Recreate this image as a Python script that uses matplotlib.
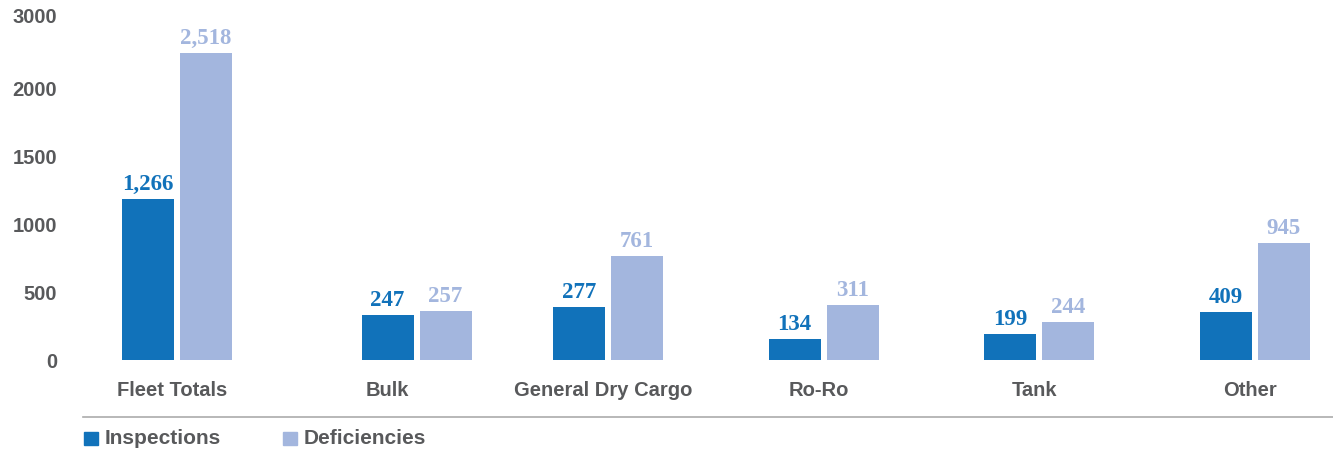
import numpy as np
import matplotlib
matplotlib.use("Agg")
import matplotlib.pyplot as plt
from matplotlib.lines import Line2D
from matplotlib.patches import Rectangle

# bar heights as drawn on the axis, printed values as shown above the bars
categories = ["Fleet Totals", "Bulk", "General Dry Cargo", "Ro-Ro", "Tank", "Other"]
series = ["Inspections", "Deficiencies"]
inspections = [1184, 331, 390, 154, 191, 353]
deficiencies = [2257, 360, 765, 404, 279, 860]
inspections_text = ["1,266", "247", "277", "134", "199", "409"]
deficiencies_text = ["2,518", "257", "761", "311", "244", "945"]
ytick_pos = [0, 500, 1000, 1500, 2000, 2530]
ytick_labels = ["0", "500", "1000", "1500", "2000", "3000"]

colors = ["#1172ba", "#a3b6de"]
grey = "#58595b"
sans = ["Liberation Sans", "DejaVu Sans"]
serif = ["Liberation Serif", "DejaVu Serif"]

W, H = 1333, 451
fig = plt.figure(figsize=(W / 100, H / 100), dpi=100)

# axes placed in pixel terms: y=0 at 360px from top, category step 215.5px
left_px, base_px = 60, 360
ax = fig.add_axes([left_px / W, (H - base_px) / H, 1 - left_px / W, base_px / H])
step = 215.5
x = np.arange(len(categories))
ax.set_xlim((left_px - 177) / step, (W - 177) / step)
ax.set_ylim(0, base_px / 68 * 500)

# the Bulk pair sits a little right of its label in the original layout
group_x = x + np.array([0, 24, 0, 0, 0, 0]) / step
width = 52 / step
off = 29 / step
b1 = ax.bar(group_x - off, inspections, width, color=colors[0])
b2 = ax.bar(group_x + off, deficiencies, width, color=colors[1])

for bars, texts, c in [(b1, inspections_text, colors[0]), (b2, deficiencies_text, colors[1])]:
    for rect, t in zip(bars, texts):
        ax.annotate(t, (rect.get_x() + rect.get_width() / 2, rect.get_height()),
                    xytext=(0, 6.5), textcoords="offset points", ha="center",
                    va="baseline", fontsize=16.5, fontweight="bold", color=c,
                    family=serif)

for s in ax.spines.values():
    s.set_visible(False)
ax.tick_params(length=0)
ax.set_yticks(ytick_pos)
ax.set_yticklabels(ytick_labels, fontsize=14.5, fontweight="bold", color=grey, family=sans)
ax.tick_params(axis="y", pad=2)
ax.set_xticks(x - 5 / step)
ax.set_xticklabels(categories, fontsize=14.5, fontweight="bold", color=grey, family=sans)
ax.tick_params(axis="x", pad=15)

# rule under the categories
fig.add_artist(Line2D([83 / W, 1], [1 - 416.5 / H, 1 - 416.5 / H], color="#ababab", lw=1.2))

# legend
for i, (name, c) in enumerate(zip(series, colors)):
    x0 = [84, 283][i]
    fig.add_artist(Rectangle((x0 / W, 1 - 445 / H), 14 / W, 13 / H, color=c,
                             transform=fig.transFigure))
    fig.text((x0 + 21) / W, 1 - 438.5 / H, name, fontsize=15, fontweight="bold",
             color=grey, family=sans, va="center", ha="left")

fig.savefig("out.png", dpi=100)
